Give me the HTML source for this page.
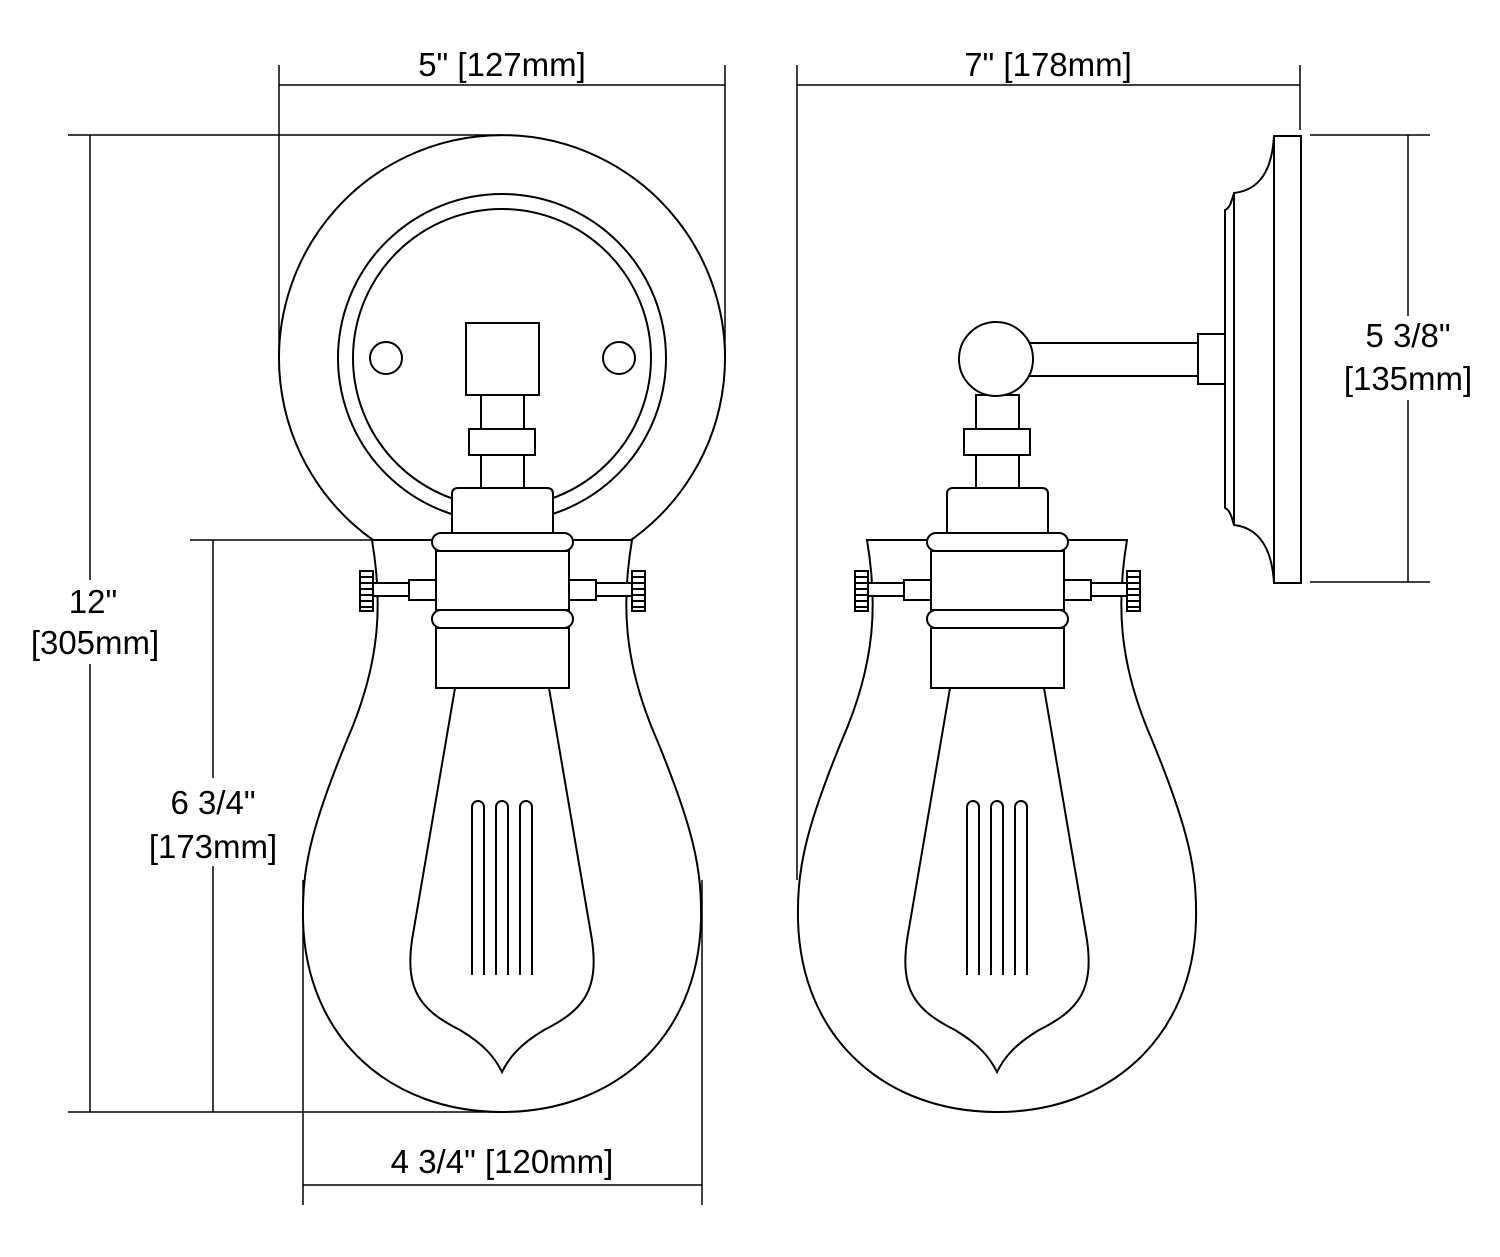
<!DOCTYPE html>
<html><head><meta charset="utf-8"><style>
html,body{margin:0;padding:0;background:#fff}
svg{display:block}
text{font-family:"Liberation Sans",sans-serif;font-size:33px;fill:#000;text-anchor:middle}
</style></head><body>
<svg width="1500" height="1257" viewBox="0 0 1500 1257" xmlns="http://www.w3.org/2000/svg">
<defs>
<g id="shade" fill="none" stroke="#000" stroke-width="2">
  <path d="M-130,540 C-120,600 -120,660 -155,740 C-192,830 -200,870 -199,920 C-196,1040 -110,1112 0,1112 C110,1112 196,1040 199,920 C200,870 192,830 155,740 C120,660 120,600 130,540 Z"/>
  <path d="M-47,688 L-90,940 C-97,990 -82,1010 -42,1030 C-17,1045 -7,1058 0,1072 C7,1058 17,1045 42,1030 C82,1010 97,990 90,940 L47,688"/>
  <path d="M-30,975 V807 A6,6 0 0 1 -18,807 V975 M-6,975 V807 A6,6 0 0 1 6,807 V975 M18,975 V807 A6,6 0 0 1 30,807 V975"/>
  <rect x="-21" y="395" width="43" height="93" fill="#fff"/>
  <rect x="-33" y="429" width="66" height="26" fill="#fff"/>
  <path d="M-50,533 V494 Q-50,488 -44,488 H45 Q51,488 51,494 V533" fill="#fff"/>
  <rect x="-66" y="551" width="133" height="59" fill="#fff"/>
  <rect x="-66" y="628" width="133" height="60" fill="#fff"/>
  <rect x="-70" y="533" width="141" height="18" rx="9" fill="#fff"/>
  <rect x="-70" y="610" width="141" height="18" rx="9" fill="#fff"/>
  <rect x="-93" y="580" width="27" height="20" fill="#fff"/>
  <rect x="-129" y="583" width="36" height="13" fill="#fff"/>
  <rect x="-142" y="571" width="13" height="40" fill="#fff"/>
  <path d="M-142,577 H-129 M-142,583 H-129 M-142,589 H-129 M-142,595 H-129 M-142,601 H-129 M-142,607 H-129"/>
  <rect x="67" y="580" width="27" height="20" fill="#fff"/>
  <rect x="94" y="583" width="36" height="13" fill="#fff"/>
  <rect x="130" y="571" width="13" height="40" fill="#fff"/>
  <path d="M130,577 H143 M130,583 H143 M130,589 H143 M130,595 H143 M130,601 H143 M130,607 H143"/>
</g>
</defs>
<g fill="none" stroke="#000" stroke-width="2">
  <path d="M373,540 A223,223 0 1 1 631,540"/>
  <circle cx="502" cy="358" r="164"/>
  <circle cx="502" cy="358" r="149"/>
  <circle cx="386" cy="358" r="16"/>
  <circle cx="619" cy="358" r="16"/>
  <rect x="466" y="323" width="73" height="72"/>
</g>
<use href="#shade" x="502"/>
<g fill="none" stroke="#000" stroke-width="2">
  <rect x="1274" y="136" width="27" height="447"/>
  <path d="M1274,136 C1272,170 1260,190 1234,193 C1232,200 1230,208 1225,210 V508 C1230,510 1232,518 1234,525 C1260,528 1272,550 1274,583"/>
  <path d="M1234,193 V525"/>
  <rect x="1198" y="334" width="27" height="50"/>
  <rect x="1020" y="343" width="178" height="33"/>
</g>
<use href="#shade" x="997"/>
<circle cx="996" cy="359" r="37" fill="#fff" stroke="#000" stroke-width="2"/>
<g stroke="#000" stroke-width="1.5" fill="none">
  <path d="M279,65 V358 M725,65 V358 M279,85 H725"/>
  <path d="M68,135 H502 M68,1112 H502 M90,135 V1112"/>
  <path d="M190,540 H372 M213,540 V1112"/>
  <path d="M303,880 V1205 M702,880 V1205 M303,1185 H702"/>
  <path d="M797,65 V880 M1300,65 V130 M797,85 H1300"/>
  <path d="M1310,135 H1430 M1310,582 H1430 M1408,135 V582"/>
</g>
<rect x="20" y="580" width="150" height="84" fill="#fff"/>
<rect x="140" y="778" width="145" height="88" fill="#fff"/>
<rect x="1335" y="316" width="145" height="84" fill="#fff"/>
<text x="502" y="76">5" [127mm]</text>
<text x="1048" y="76">7" [178mm]</text>
<text x="93" y="613">12"</text>
<text x="95" y="654">[305mm]</text>
<text x="213" y="814">6 3/4"</text>
<text x="213" y="858">[173mm]</text>
<text x="502" y="1173">4 3/4" [120mm]</text>
<text x="1408" y="347">5 3/8"</text>
<text x="1408" y="390">[135mm]</text>
</svg>
</body></html>
